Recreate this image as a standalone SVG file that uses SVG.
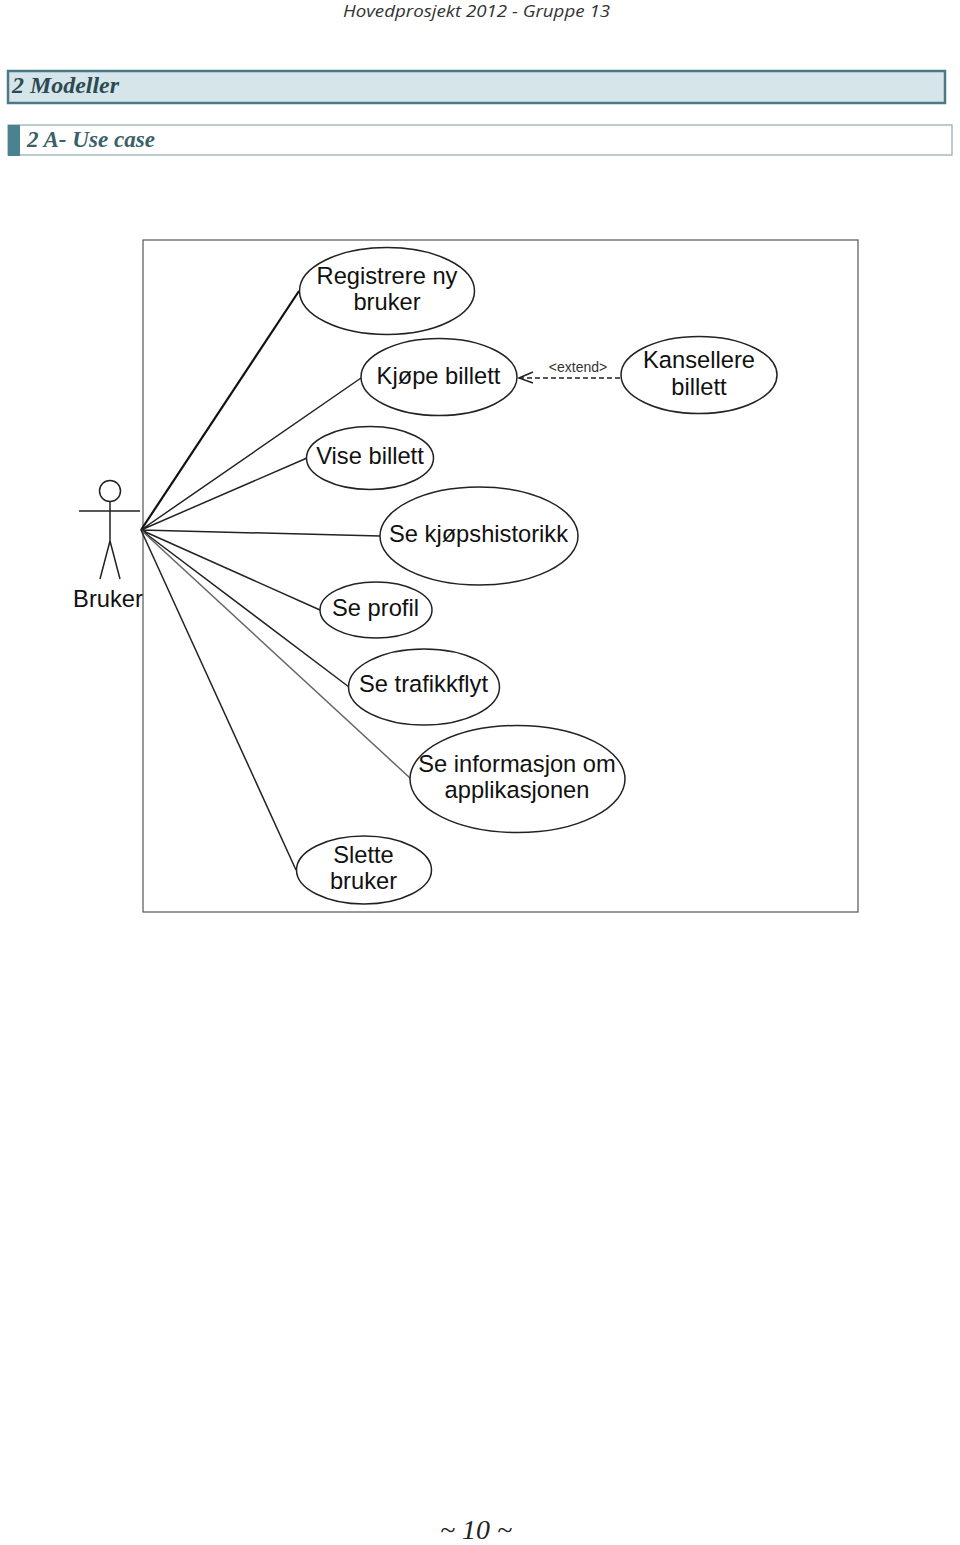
<svg xmlns="http://www.w3.org/2000/svg" width="960" height="1545" viewBox="0 0 960 1545">
<style>
.u{fill:#fff;stroke:#222;stroke-width:1.5}
.t{font-family:"Liberation Sans",Arial,sans-serif;font-size:23.7px;fill:#111;text-anchor:middle}
.l{fill:none;stroke:#222;stroke-width:1.5}
.h{font-family:"Liberation Serif","Noto Serif",serif;font-style:italic;font-weight:bold;fill:#2c4a54}
</style>
<rect width="960" height="1545" fill="#fff"/>
<text x="476.500" y="17" text-anchor="middle" font-family="'Open Sans','Noto Sans',sans-serif" font-style="italic" font-size="17" fill="#333" textLength="267" lengthAdjust="spacingAndGlyphs">Hovedprosjekt 2012 - Gruppe 13</text>
<rect x="8" y="71" width="937" height="32" fill="#d6e5e9" stroke="#4a7a85" stroke-width="2.500"/>
<text class="h" x="12" y="93" font-size="24" textLength="107" lengthAdjust="spacingAndGlyphs">2 Modeller</text>
<rect x="8" y="125" width="944" height="30" fill="#fff" stroke="#8fa9ae" stroke-width="1.200"/>
<rect x="8" y="125" width="12" height="31" fill="#4a8290"/>
<text class="h" x="27" y="147" font-size="24" style="fill:#3b5f6a" textLength="128" lengthAdjust="spacingAndGlyphs">2 A- Use case</text>
<rect x="143" y="240" width="715" height="672" fill="#fff" stroke="#555" stroke-width="1.200"/>
<g id="connectors">
<path class="l" style="stroke-width:2.200;stroke:#111" d="M141 530L299 291"/>
<path class="l" d="M141 530L361 378M141 530L307 458M141 530L380 536M141 530L320 610M141 530L349 687"/>
<path class="l" style="stroke:#666" d="M141 530L410 778"/>
<path class="l" d="M141 530L296 870"/>
<path class="l" stroke-dasharray="5 3" d="M519 378H621"/>
<path class="l" d="M533 372L519 378L533 383"/>
<text x="578" y="372" font-family="'Liberation Sans',sans-serif" font-size="14" text-anchor="middle" fill="#333">&lt;extend&gt;</text>
</g>
<g id="actor-bruker">
<circle class="l" cx="110" cy="491" r="10.500"/>
<path class="l" d="M110 502V541M79 511H140M110 541L100 579M110 541L120 579"/>
<text class="t" x="108" y="607">Bruker</text>
</g>
<g id="uc-registrere"><ellipse class="u" cx="387" cy="291" rx="87.500" ry="43.500"/><text class="t" x="387" y="284">Registrere ny</text><text class="t" x="387" y="310">bruker</text></g>
<g id="uc-kjope"><ellipse class="u" cx="439" cy="377" rx="78" ry="38.500"/><text class="t" x="438.500" y="384">Kjøpe billett</text></g>
<g id="uc-kansellere"><ellipse class="u" cx="699" cy="375" rx="78" ry="38.500"/><text class="t" x="699" y="368">Kansellere</text><text class="t" x="699" y="395">billett</text></g>
<g id="uc-vise"><ellipse class="u" cx="370" cy="458" rx="63.500" ry="31.500"/><text class="t" x="370" y="464">Vise billett</text></g>
<g id="uc-historikk"><ellipse class="u" cx="479" cy="536" rx="99" ry="49"/><text class="t" x="478.500" y="542">Se kjøpshistorikk</text></g>
<g id="uc-profil"><ellipse class="u" cx="376" cy="610" rx="56" ry="28"/><text class="t" x="375.500" y="616">Se profil</text></g>
<g id="uc-trafikk"><ellipse class="u" cx="424" cy="687" rx="75.500" ry="38"/><text class="t" x="423.500" y="692">Se trafikkflyt</text></g>
<g id="uc-informasjon"><ellipse class="u" cx="517.500" cy="779" rx="107.500" ry="53.500"/><text class="t" x="517" y="772">Se informasjon om</text><text class="t" x="517" y="798">applikasjonen</text></g>
<g id="uc-slette"><ellipse class="u" cx="364" cy="870" rx="67.500" ry="34"/><text class="t" x="363.500" y="863">Slette</text><text class="t" x="363.500" y="889">bruker</text></g>
<text x="476" y="1539" text-anchor="middle" font-family="'Liberation Serif',serif" font-style="italic" font-size="27" fill="#222" textLength="72" lengthAdjust="spacingAndGlyphs">~ 10 ~</text>
</svg>
